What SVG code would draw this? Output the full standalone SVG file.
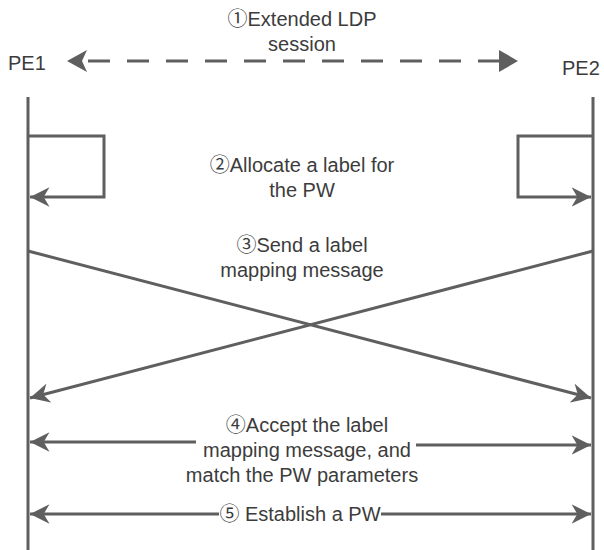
<svg xmlns="http://www.w3.org/2000/svg" width="604" height="550" viewBox="0 0 604 550">
<style>
  text { font-family: "Liberation Sans", Arial, "Noto Sans CJK SC", sans-serif; font-size: 20px; fill: #3c3c3c; }
  .mid { text-anchor: middle; }
  .ln { stroke: #5f5f5f; stroke-width: 3; fill: none; }
  .dash { stroke-dasharray: 22 17; }
</style>
<defs>
  <marker id="ah" viewBox="0 0 10 10" refX="10" refY="5" markerWidth="6.5" markerHeight="6.5" markerUnits="strokeWidth" orient="auto-start-reverse">
    <path d="M0,0 L10,5 L0,10 L3,5 Z" fill="#5f5f5f"/>
  </marker>
</defs>
<rect width="604" height="550" fill="#ffffff"/>
<g id="PE1">
  <text x="8" y="70">PE1</text>
  <line class="ln" x1="28" y1="97" x2="28" y2="550"/>
</g>
<g id="PE2">
  <text x="562" y="75">PE2</text>
  <line class="ln" x1="593" y1="97" x2="593" y2="550"/>
</g>
<g id="connectors">
  <line class="ln dash" x1="88" y1="61" x2="500" y2="61"/>
  <path d="M67,61 L87,50 L82,61 L87,72 Z" fill="#5f5f5f"/>
  <path d="M518,61 L499,50 L499,72 Z" fill="#5f5f5f"/>
  <polyline class="ln" points="28,136 104,136 104,197 30,197" marker-end="url(#ah)"/>
  <polyline class="ln" points="593,136 518,136 518,197 591,197" marker-end="url(#ah)"/>
  <line class="ln" x1="28" y1="251" x2="591" y2="398" marker-end="url(#ah)"/>
  <line class="ln" x1="593" y1="251" x2="30" y2="398" marker-end="url(#ah)"/>
  <line class="ln" x1="196" y1="442" x2="30" y2="442" marker-end="url(#ah)"/>
  <line class="ln" x1="416" y1="445" x2="591" y2="445" marker-end="url(#ah)"/>
  <line class="ln" x1="219" y1="514" x2="30" y2="514" marker-end="url(#ah)"/>
  <line class="ln" x1="381" y1="514" x2="591" y2="514" marker-end="url(#ah)"/>
</g>
<g id="labels">
  <text class="mid" x="302" y="26">①Extended LDP</text>
  <text class="mid" x="302" y="51">session</text>
  <text class="mid" x="302" y="172">②Allocate a label for</text>
  <text class="mid" x="302" y="197">the PW</text>
  <text class="mid" x="302" y="252">③Send a label</text>
  <text class="mid" x="302" y="277">mapping message</text>
  <text class="mid" x="307" y="432">④Accept the label</text>
  <text class="mid" x="307" y="457">mapping message, and</text>
  <text class="mid" x="302" y="482">match the PW parameters</text>
  <text class="mid" x="300" y="521">⑤ Establish a PW</text>
</g>
</svg>
